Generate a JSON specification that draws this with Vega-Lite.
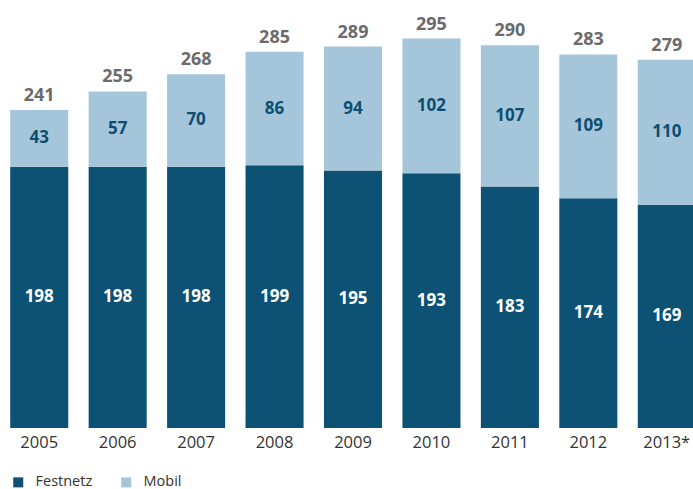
{
  "$schema": "https://vega.github.io/schema/vega-lite/v6.json",
  "width": 706,
  "height": 396,
  "autosize": "none",
  "padding": {"left": 0, "top": 32, "right": 0, "bottom": 61},
  "background": "white",
  "config": {"view": {"stroke": null}, "font": "Open Sans"},
  "data": {"values": [
    {"year": "2005", "type": "Festnetz", "value": 198},
    {"year": "2005", "type": "Mobil", "value": 43},
    {"year": "2006", "type": "Festnetz", "value": 198},
    {"year": "2006", "type": "Mobil", "value": 57},
    {"year": "2007", "type": "Festnetz", "value": 198},
    {"year": "2007", "type": "Mobil", "value": 70},
    {"year": "2008", "type": "Festnetz", "value": 199},
    {"year": "2008", "type": "Mobil", "value": 86},
    {"year": "2009", "type": "Festnetz", "value": 195},
    {"year": "2009", "type": "Mobil", "value": 94},
    {"year": "2010", "type": "Festnetz", "value": 193},
    {"year": "2010", "type": "Mobil", "value": 102},
    {"year": "2011", "type": "Festnetz", "value": 183},
    {"year": "2011", "type": "Mobil", "value": 107},
    {"year": "2012", "type": "Festnetz", "value": 174},
    {"year": "2012", "type": "Mobil", "value": 109},
    {"year": "2013*", "type": "Festnetz", "value": 169},
    {"year": "2013*", "type": "Mobil", "value": 110}
  ]},
  "encoding": {
    "x": {
      "field": "year", "type": "nominal", "title": null,
      "scale": {"paddingInner": 0.26, "paddingOuter": 0.13},
      "axis": {"domain": false, "ticks": false, "labelAngle": 0, "labelFontSize": 16.5, "labelColor": "#333333", "labelPadding": 6, "labelFont": "Open Sans"}
    }
  },
  "layer": [
    {
      "mark": {"type": "bar"},
      "encoding": {
        "y": {"field": "value", "type": "quantitative", "stack": "zero", "scale": {"domain": [0, 300]}, "axis": null},
        "order": {"field": "type", "sort": "ascending"},
        "color": {
          "field": "type", "type": "nominal", "title": null,
          "scale": {"domain": ["Festnetz", "Mobil"], "range": ["#0d5275", "#a5c6da"]},
          "legend": {"orient": "none", "legendX": 11, "legendY": 443, "direction": "horizontal", "symbolType": "square", "symbolSize": 100, "symbolStrokeWidth": 0, "labelFontSize": 14.5, "labelColor": "#333333", "labelFont": "Open Sans", "columnPadding": 26, "labelOffset": 10}
        }
      }
    },
    {
      "transform": [
        {"stack": "value", "groupby": ["year"], "sort": [{"field": "type", "order": "ascending"}], "as": ["v0", "v1"]},
        {"calculate": "(datum.v0 + datum.v1) / 2", "as": "mid"}
      ],
      "mark": {"type": "text", "fontSize": 17, "fontWeight": "bold", "baseline": "middle", "font": "Open Sans"},
      "encoding": {
        "y": {"field": "mid", "type": "quantitative", "scale": {"domain": [0, 300]}},
        "text": {"field": "value", "type": "quantitative"},
        "color": {"condition": {"test": "datum.type === 'Festnetz'", "value": "white"}, "value": "#0d4f72"}
      }
    },
    {
      "transform": [{"aggregate": [{"op": "sum", "field": "value", "as": "total"}], "groupby": ["year"]}],
      "mark": {"type": "text", "fontSize": 18, "fontWeight": "bold", "baseline": "bottom", "dy": -5, "color": "#6b6b6b", "font": "Open Sans"},
      "encoding": {
        "y": {"field": "total", "type": "quantitative", "scale": {"domain": [0, 300]}},
        "text": {"field": "total", "type": "quantitative"}
      }
    }
  ]
}
